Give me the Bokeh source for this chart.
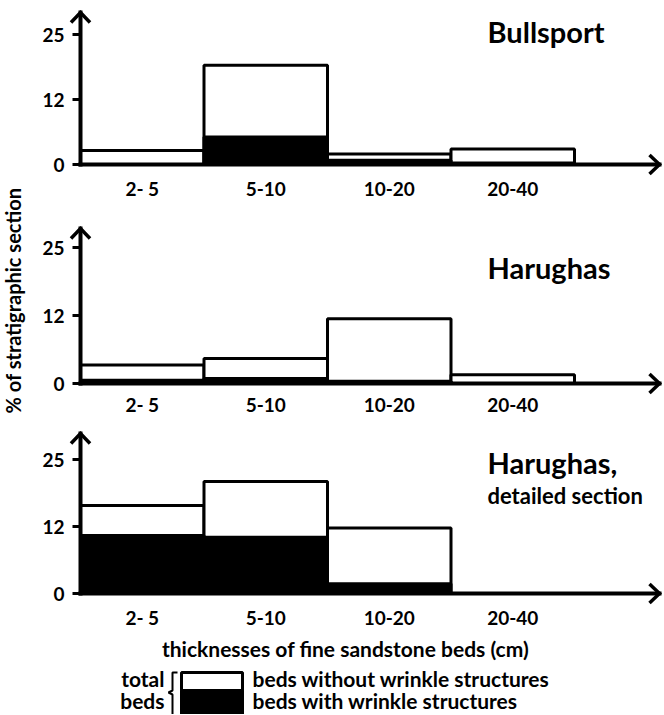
from math import pi
from bokeh.plotting import figure
from bokeh.models import Range1d, FixedTicker, Label
from bokeh.layouts import row, column
from bokeh.embed import file_html
from bokeh.resources import INLINE

# ---------------- data ----------------
categories = ["2- 5", "5-10", "10-20", "20-40"]
y_ticks = [0, 12.5, 25]
y_tick_labels = ["0", "12", "25"]

bullsport_total = [2.7, 19.1, 2.0, 3.0]
bullsport_wrinkle = [0.0, 5.3, 0.8, 0.3]

harughas_total = [3.4, 4.6, 11.9, 1.6]
harughas_wrinkle = [0.6, 0.9, 0.4, 0.0]

detailed_total = [16.4, 20.9, 12.2, 0.0]
detailed_wrinkle = [10.8, 10.5, 1.8, 0.0]

y_title = "% of stratigraphic section"
x_title = "thicknesses of fine sandstone beds (cm)"
legend_group = ["total", "beds"]
legend_items = ["beds without wrinkle structures", "beds with wrinkle structures"]

# ---------------- style / layout ----------------
FONT = "Lato"
LEFT_W = 30          # width of the y-title strip
PW = 632             # width of each panel figure
X0 = 80              # page x of the y axis
XS = 123.5           # px per category
HEAD_HW = 9.5        # arrow-head half width (px)
HEAD_L = 10          # arrow-head length (px)
TITLE_X = 487        # page x of panel titles


def panel(total, wrinkle, titles, height, y0_px, ys, tip_px_from_top, standoff):
    x_start = -(X0 - LEFT_W) / XS
    x_end = (LEFT_W + PW - X0) / XS
    y_start = -(height - y0_px) / ys
    y_end = y0_px / ys
    p = figure(width=PW, height=height, x_range=Range1d(x_start, x_end),
               y_range=Range1d(y_start, y_end), output_backend="svg",
               toolbar_location=None, min_border=0,
               outline_line_color=None, title=None)
    p.xgrid.visible = False
    p.ygrid.visible = False

    idx = list(range(len(categories)))
    lefts = [i for i in idx if total[i] > 0]
    p.quad(left=lefts, right=[i + 1 for i in lefts], bottom=0,
           top=[total[i] for i in lefts], fill_color="white",
           line_color="black", line_width=3)
    wl = [i for i in idx if wrinkle[i] > 0]
    p.quad(left=wl, right=[i + 1 for i in wl], bottom=0,
           top=[wrinkle[i] for i in wl], fill_color="black",
           line_color="black", line_width=3)

    # axis lines with open arrow heads
    tip_y = (y0_px - tip_px_from_top) / ys
    tip_x = (LEFT_W + PW - 3 - X0) / XS
    p.line(x=[0, 0], y=[0, tip_y], line_width=4, line_color="black",
           line_cap="square")
    p.line(x=[0, tip_x], y=[0, 0], line_width=4, line_color="black",
           line_cap="square")
    p.line(x=[-HEAD_HW / XS, 0, HEAD_HW / XS],
           y=[tip_y - HEAD_L / ys, tip_y, tip_y - HEAD_L / ys],
           line_width=3.5, line_color="black", line_join="miter")
    p.line(x=[tip_x - HEAD_L / XS, tip_x, tip_x - HEAD_L / XS],
           y=[HEAD_HW / ys, 0, -HEAD_HW / ys],
           line_width=3.5, line_color="black", line_join="miter")

    # ticks and labels
    ya = p.yaxis[0]
    ya.fixed_location = 0
    ya.ticker = FixedTicker(ticks=y_ticks)
    ya.major_label_overrides = {t: l for t, l in zip(y_ticks, y_tick_labels)}
    ya.axis_line_color = None
    ya.major_tick_line_width = 3
    ya.major_tick_line_color = "black"
    ya.major_tick_out = 8
    ya.major_tick_in = 0
    ya.minor_tick_line_color = None
    ya.major_label_text_font = FONT
    ya.major_label_text_font_style = "bold"
    ya.major_label_text_font_size = "19px"
    ya.major_label_text_color = "black"
    ya.major_label_standoff = 8

    xa = p.xaxis[0]
    xa.fixed_location = 0
    centers = [i + 0.5 for i in idx]
    xa.ticker = FixedTicker(ticks=centers)
    xa.major_label_overrides = {c: l for c, l in zip(centers, categories)}
    xa.axis_line_color = None
    xa.major_tick_line_color = None
    xa.major_tick_out = 0
    xa.major_tick_in = 0
    xa.minor_tick_line_color = None
    xa.major_label_text_font = FONT
    xa.major_label_text_font_style = "bold"
    xa.major_label_text_font_size = "19px"
    xa.major_label_text_color = "black"
    xa.major_label_standoff = standoff

    for text, baseline_px, size in titles:
        shift = 0.38 * size
        p.add_layout(Label(x=(TITLE_X - X0) / XS,
                           y=(y0_px - baseline_px + shift) / ys,
                           text=text, text_font=FONT,
                           text_font_style="bold", text_font_size=f"{size}px",
                           text_baseline="alphabetic", text_align="left",
                           text_color="black"))
    return p


# titles: (text, baseline in px from the figure top, font size)
p1 = panel(bullsport_total, bullsport_wrinkle, [("Bullsport", 41.7, 29)],
           207, 164, 5.2, 12, 12)
p2 = panel(harughas_total, harughas_wrinkle, [("Harughas", 278 - 207, 29)],
           210, 176, 5.44, 21, 9)
p3 = panel(detailed_total, detailed_wrinkle,
           [("Harughas,", 473.3 - 417, 29), ("detailed section", 503.3 - 417, 22)],
           213, 176, 5.36, 16, 12)

# legend / x title (coordinates in page pixels)
LEG_TOP, LEG_H = 630, 84
leg = figure(width=PW, height=LEG_H, x_range=Range1d(LEFT_W, LEFT_W + PW),
             y_range=Range1d(LEG_TOP + LEG_H, LEG_TOP), output_backend="svg",
             toolbar_location=None, min_border=0, outline_line_color=None,
             x_axis_type=None, y_axis_type=None, title=None)


def leg_text(x, baseline, text, size, align):
    leg.add_layout(Label(x=x, y=baseline - 0.38 * size, text=text, text_font=FONT,
                         text_font_style="bold", text_font_size=f"{size}px",
                         text_align=align, text_baseline="alphabetic",
                         text_color="black"))


leg_text(345, 656, x_title, 21, "center")
leg_text(164, 686, legend_group[0], 21, "right")
leg_text(164, 708, legend_group[1], 21, "right")
leg.line(x=[177, 172, 172, 168, 172, 172], y=[672, 672, 690, 692, 694, 715],
         line_color="black", line_width=2)
leg.quad(left=181, right=242, top=672, bottom=690, fill_color="white",
         line_color="black", line_width=3)
leg.quad(left=181, right=242, top=690, bottom=716, fill_color="black",
         line_color="black", line_width=3)
leg_text(252, 686, legend_items[0], 21, "left")
leg_text(252, 708, legend_items[1], 21, "left")

# y title strip
TOTAL_H = 207 + 210 + 213 + LEG_H
yl = figure(width=LEFT_W, height=TOTAL_H, x_range=Range1d(0, LEFT_W),
            y_range=Range1d(0, TOTAL_H), output_backend="svg",
            toolbar_location=None, min_border=0, outline_line_color=None,
            x_axis_type=None, y_axis_type=None, title=None)
yl.add_layout(Label(x=12, y=TOTAL_H - 300, text=y_title, angle=pi / 2,
                    text_font=FONT, text_font_style="bold", text_font_size="20px",
                    text_align="center", text_baseline="middle",
                    text_color="black"))

layout = row(yl, column(p1, p2, p3, leg))
open("out.html", "w").write(file_html(layout, INLINE))
